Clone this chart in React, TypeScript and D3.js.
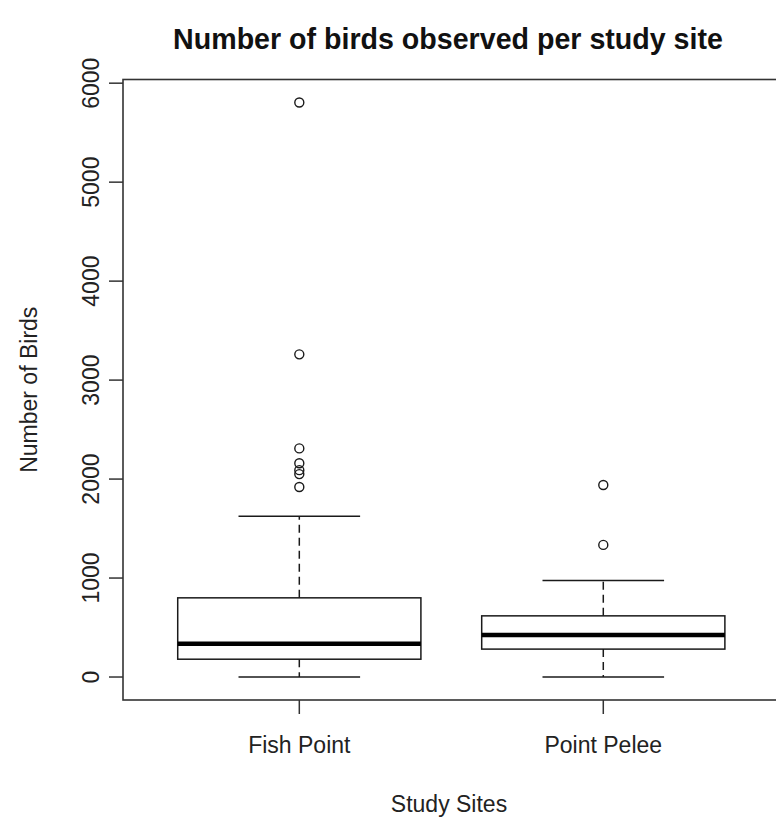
import React from "react";
import * as d3 from "d3";

const sites = ["Fish Point", "Point Pelee"];
const whiskerLow = [0, 0];
const q1 = [180, 282];
const median = [335, 425];
const q3 = [800, 618];
const whiskerHigh = [1625, 975];
const outliersFish = [5805, 3260, 2310, 2160, 2090, 2050, 1920];
const outliersPelee = [1940, 1335];
const outliers = [outliersFish, outliersPelee];
const yTicks = [0, 1000, 2000, 3000, 4000, 5000, 6000];

const W = 776;
const H = 820;
const left = 123;
const right = 779.6;
const top = 79.5;
const bottom = 700;
const FONT = "'Liberation Sans', Arial, sans-serif";
const INK = "#1a1a1a";

export default function App() {
  const allVals = [...whiskerLow, ...whiskerHigh, ...outliersFish, ...outliersPelee];
  const yMin = d3.min(allVals) as number;
  const yMax = d3.max(allVals) as number;
  const ext = (yMax - yMin) * 0.04;
  const y = d3.scaleLinear().domain([yMin - ext, yMax + ext]).range([bottom, top]);
  const x = d3.scaleLinear().domain([0.42, 2.58]).range([left, right]);
  const boxW = 0.8;
  const capW = 0.4;

  return (
    <svg width={W} height={H} style={{ position: "absolute", left: 0, top: 0, background: "#fff" }}
      fontFamily={FONT}>
      <rect x={0} y={0} width={W} height={H} fill="#fff" />
      <text x={448} y={49} textAnchor="middle" fontSize={28.6} fontWeight="bold" fill="#111">
        Number of birds observed per study site
      </text>

      {sites.map((s, i) => {
        const c = i + 1;
        const xc = x(c);
        const x0 = x(c - boxW / 2);
        const x1 = x(c + boxW / 2);
        const cx0 = x(c - capW / 2);
        const cx1 = x(c + capW / 2);
        return (
          <g key={s}>
            <line x1={xc} x2={xc} y1={y(q3[i])} y2={y(whiskerHigh[i])} stroke={INK} strokeWidth={1.5} strokeDasharray="8,5" />
            <line x1={xc} x2={xc} y1={y(q1[i])} y2={y(whiskerLow[i])} stroke={INK} strokeWidth={1.5} strokeDasharray="8,5" />
            <line x1={cx0} x2={cx1} y1={y(whiskerHigh[i])} y2={y(whiskerHigh[i])} stroke={INK} strokeWidth={1.5} />
            <line x1={cx0} x2={cx1} y1={y(whiskerLow[i])} y2={y(whiskerLow[i])} stroke={INK} strokeWidth={1.5} />
            <rect x={x0} y={y(q3[i])} width={x1 - x0} height={y(q1[i]) - y(q3[i])} fill="none" stroke={INK} strokeWidth={1.5} />
            <line x1={x0} x2={x1} y1={y(median[i])} y2={y(median[i])} stroke="#000" strokeWidth={4.5} />
            {outliers[i].map((v, k) => (
              <circle key={k} cx={xc} cy={y(v)} r={4.5} fill="none" stroke={INK} strokeWidth={1.4} />
            ))}
          </g>
        );
      })}

      <rect x={left} y={top} width={right - left} height={bottom - top} fill="none" stroke="#333" strokeWidth={1.6} />

      {yTicks.map((t) => (
        <g key={t}>
          <line x1={left - 14} x2={left} y1={y(t)} y2={y(t)} stroke="#333" strokeWidth={1.5} />
          <text transform={`translate(${left - 24},${y(t)}) rotate(-90)`} textAnchor="middle" fontSize={23} fill="#222">
            {t}
          </text>
        </g>
      ))}

      {sites.map((s, i) => (
        <g key={s}>
          <line x1={x(i + 1)} x2={x(i + 1)} y1={bottom} y2={bottom + 14} stroke="#333" strokeWidth={1.5} />
          <text x={x(i + 1)} y={753} textAnchor="middle" fontSize={23} fill="#222">{s}</text>
        </g>
      ))}

      <text x={449} y={812} textAnchor="middle" fontSize={23} fill="#222">Study Sites</text>
      <text transform={`translate(${left - 86},${(top + bottom) / 2}) rotate(-90)`} textAnchor="middle" fontSize={23} fill="#222">
        Number of Birds
      </text>
    </svg>
  );
}
